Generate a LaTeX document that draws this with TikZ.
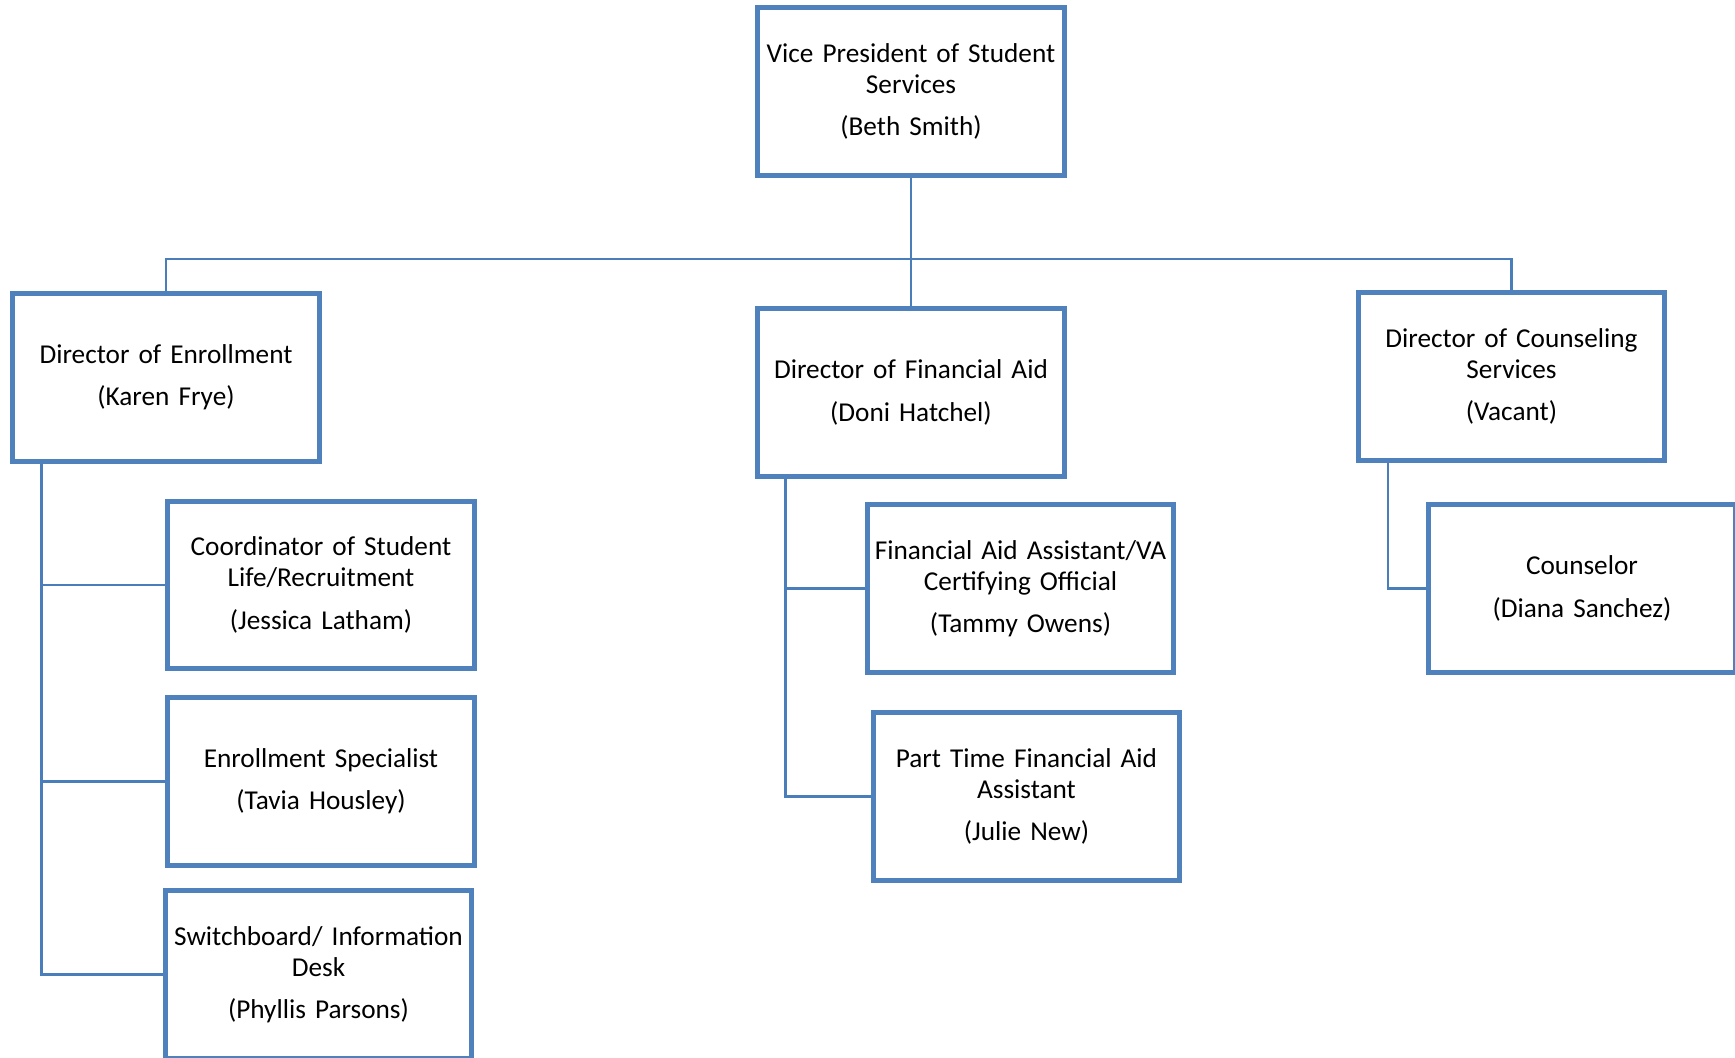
\documentclass[tikz,border=0pt]{standalone}
\usepackage{fontspec}
\setmainfont{Carlito}
\usetikzlibrary{positioning}
\definecolor{boxblue}{HTML}{4F81BD}
\definecolor{lineblue}{HTML}{4A7EBB}
\begin{document}
\begin{tikzpicture}[
    x=0.01cm, y=-0.01cm,
    role/.style={rectangle, draw=boxblue, line width=1.4pt, text width=2.98cm, align=center, minimum width=3.06cm, minimum height=1.67cm, inner sep=0pt, font=\fontsize{7.75}{8.8}\selectfont},
    link/.style={draw=lineblue, line width=0.6pt}
]
    \useasboundingbox (0,0) rectangle (1735,1058);

    \node[role] (vp) at (911,91.5) {Vice President of Student\\Services\\[3.2pt](Beth Smith)};
    \node[role] (enroll) at (166,377.5) {Director of Enrollment\\[3.2pt](Karen Frye)};
    \node[role] (finaid) at (911,392.5) {Director of Financial Aid\\[3.2pt](Doni Hatchel)};
    \node[role] (counsel) at (1511.5,376.5) {Director of Counseling\\Services\\[3.2pt](Vacant)};

    \node[role] (coord) at (321,585) {Coordinator of Student\\Life/Recruitment\\[3.2pt](Jessica Latham)};
    \node[role] (enrspec) at (321,781.5) {Enrollment Specialist\\[3.2pt](Tavia Housley)};
    \node[role] (switch) at (318.5,974.5) {Switchboard/ Information\\Desk\\[3.2pt](Phyllis Parsons)};
    \node[role] (faasst) at (1020.5,588.5) {Financial Aid Assistant/VA\\Certifying Official\\[3.2pt](Tammy Owens)};
    \node[role] (parttime) at (1026.5,796.5) {Part Time Financial Aid\\Assistant\\[3.2pt](Julie New)};
    \node[role] (counselor) at (1582,588.5) {Counselor\\[3.2pt](Diana Sanchez)};

    \coordinate (bus) at (911,259);
    \draw[link] (vp) -- (finaid);
    \draw[link] (enroll) |- (bus) -| (counsel);

    \foreach \kid in {coord,enrspec,switch}
        \draw[link] ([xshift=3.1mm]enroll.south west) |- (\kid.west);
    \foreach \kid in {faasst,parttime}
        \draw[link] ([xshift=3mm]finaid.south west) |- (\kid.west);
    \draw[link] ([xshift=3.2mm]counsel.south west) |- (counselor.west);
\end{tikzpicture}
\end{document}
